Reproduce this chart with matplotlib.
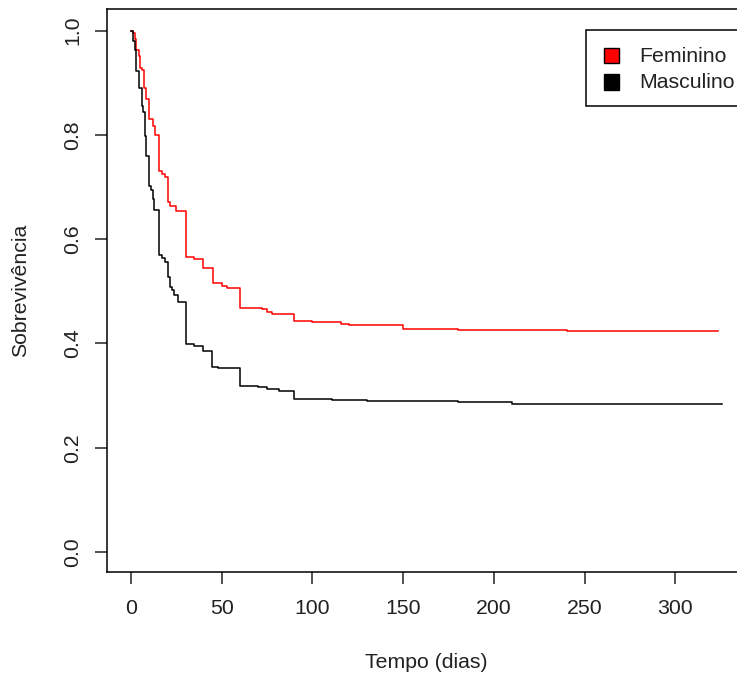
#Curva de sobrevivência (Kaplan-Meier) por sexo

import matplotlib
matplotlib.use('Agg')
import matplotlib.pyplot as plt
from matplotlib.patches import Rectangle

plt.rcParams['font.family'] = ['Liberation Sans', 'DejaVu Sans']

#dados

tempo_fem = [0, 0.9, 2.2, 2.8, 4.4, 5.0, 6.0, 7.3, 8.3, 10.0, 12.0, 13.2, 15.4, 16.9,
             18.7, 20.5, 21.5, 25.0, 30.6, 35.0, 39.6, 45.0, 50.0, 53.0, 60.0, 72.0,
             75.0, 77.6, 89.7, 100.0, 115.6, 120.0, 150.0, 180.0, 240.5, 323.5]
sobrev_fem = [1.0, 0.996, 0.984, 0.963, 0.951, 0.928, 0.925, 0.890, 0.868, 0.830, 0.816,
              0.800, 0.730, 0.724, 0.720, 0.672, 0.663, 0.653, 0.566, 0.562, 0.545, 0.515,
              0.511, 0.507, 0.468, 0.466, 0.461, 0.457, 0.443, 0.441, 0.437, 0.435, 0.428,
              0.426, 0.423, 0.423]

tempo_masc = [0, 1.1, 2.2, 2.8, 4.4, 5.9, 6.8, 7.5, 8.3, 10.0, 11.0, 12.0, 12.8, 15.4,
              16.9, 18.5, 20.5, 21.5, 22.5, 23.5, 25.7, 30.6, 35.0, 39.6, 44.6, 48.0,
              60.0, 70.0, 75.0, 81.5, 90.0, 110.6, 130.0, 180.0, 210.0, 326.0]
sobrev_masc = [1.0, 0.980, 0.963, 0.922, 0.890, 0.856, 0.843, 0.797, 0.760, 0.701, 0.695,
               0.676, 0.656, 0.570, 0.564, 0.557, 0.528, 0.509, 0.503, 0.493, 0.479, 0.399,
               0.395, 0.386, 0.355, 0.353, 0.319, 0.316, 0.312, 0.309, 0.294, 0.292, 0.290,
               0.287, 0.284, 0.284]

grupos = ['Feminino', 'Masculino']
cores = ['#ff0000', 'black']

W, H = 737, 680

def fig_xy(x, y):
    # pixels (origem no topo) -> fração da figura
    return x / W, 1 - y / H

#plotando

fig = plt.figure(figsize=(W / 100, H / 100), dpi=100)
# a área do gráfico passa um pouco da borda direita da imagem (recortada no original)
ax = fig.add_axes([107/W, 1 - 572/H, (746-107)/W, (572-9)/H])

ax.step(tempo_fem, sobrev_fem, where='post', color=cores[0], lw=1.1)
ax.step(tempo_masc, sobrev_masc, where='post', color=cores[1], lw=1.1)

ax.set_xlim(-13.2, 339)
ax.set_ylim(-0.0384, 1.0413)
ax.set_xticks([0, 50, 100, 150, 200, 250, 300])
ax.set_yticks([0.0, 0.2, 0.4, 0.6, 0.8, 1.0])
ax.set_yticklabels(['0.0', '0.2', '0.4', '0.6', '0.8', '1.0'])

for s in ax.spines.values():
    s.set_linewidth(1.1)
ax.tick_params(axis='both', direction='out', length=8.6, width=1.1, labelsize=15.3,
               colors='#222222', labelcolor='#222222')
ax.tick_params(axis='x', pad=10.5)
ax.tick_params(axis='y', pad=9, labelrotation=90)
for lab in ax.get_yticklabels():
    lab.set_va('center')

fig.text(*fig_xy(21, 290), 'Sobrevivência', rotation=90, ha='center', va='center',
         fontsize=15.3, color='#222222')
fig.text(*fig_xy(426, 662), 'Tempo (dias)', ha='center', va='center',
         fontsize=15.3, color='#222222')

# legenda no estilo do R (caixa cortada pela borda direita)
x0, y0 = fig_xy(586, 106)
x1, y1 = fig_xy(760, 30)
fig.add_artist(Rectangle((x0, y0), x1 - x0, y1 - y0, transform=fig.transFigure,
                         facecolor='white', edgecolor='black', lw=1.1))
for i, (g, c) in enumerate(zip(grupos, cores)):
    yc = 55.5 + 26.5 * i
    qx, qy = fig_xy(604, yc + 7.5)
    fig.add_artist(Rectangle((qx, qy), 15 / W, 15 / H, transform=fig.transFigure,
                             facecolor=c, edgecolor='black', lw=1))
    fig.text(*fig_xy(639, yc + 1), g, ha='left', va='center', fontsize=15.3,
             color='#222222')

plt.savefig('out.png', dpi=100)
